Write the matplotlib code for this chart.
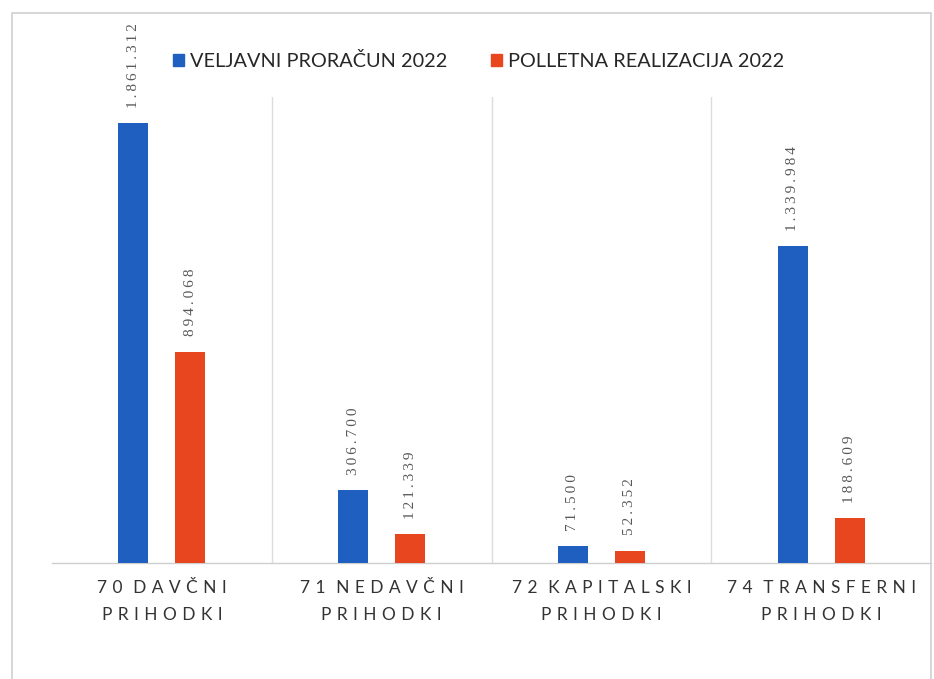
import matplotlib
matplotlib.use("Agg")
import matplotlib.pyplot as plt
from matplotlib.patches import Patch, Rectangle
import numpy as np

categories = ["70 DAVČNI\nPRIHODKI", "71 NEDAVČNI\nPRIHODKI", "72 KAPITALSKI\nPRIHODKI", "74 TRANSFERNI\nPRIHODKI"]
veljavni = [1861312, 306700, 71500, 1339984]
realizacija = [894068, 121339, 52352, 188609]
series_names = ["VELJAVNI PRORAČUN 2022", "POLLETNA REALIZACIJA 2022"]

BLUE = "#1F5FC0"
RED = "#E8461E"

def spaced(s, sep="\u2009", wsep="\u2009"):
    return "\n".join(wsep.join(sep.join(list(w)) for w in line.split(" ")) for line in s.split("\n"))

def fmt(v):
    return f"{v:,}".replace(",", ".")

fig = plt.figure(figsize=(9.34, 6.79), dpi=100)
W, H = 934, 679
ax = fig.add_axes([52 / W, 1 - 563 / H, (931 - 52) / W, (563 - 97) / H])

x = np.arange(len(categories))
bw = 0.136
off = 0.13
ax.bar(x - off, veljavni, width=bw, color=BLUE, zorder=3)
ax.bar(x + off, realizacija, width=bw, color=RED, zorder=3)

ax.set_xlim(-0.5, len(categories) - 0.5)
ax.set_ylim(0, 1971000)

for xs, vals in ((x - off, veljavni), (x + off, realizacija)):
    for xi, v in zip(xs, vals):
        ax.annotate(spaced(fmt(v)), (xi, v), xytext=(0, 11), textcoords="offset points",
                    rotation=90, ha="center", va="bottom", fontsize=11, color="#595959",
                    family=["Liberation Serif", "DejaVu Sans"], annotation_clip=False)

for b in [0.5, 1.5, 2.5]:
    ax.axvline(b, color="#dcdcdc", lw=1, zorder=1)

for s in ["top", "right", "left"]:
    ax.spines[s].set_visible(False)
ax.spines["bottom"].set_color("#cfcfcf")
ax.spines["bottom"].set_linewidth(1)
ax.set_yticks([])
ax.set_xticks(x)
ax.set_xticklabels([spaced(c, "\u2009\u2009\u200a", "\u2009\u2009\u2009\u2009\u2009") for c in categories],
                   fontsize=12.5, color="#333333",
                   family=["Lato", "DejaVu Sans"], linespacing=1.85)
ax.tick_params(axis="x", length=0, pad=12)

handles = [Patch(color=BLUE), Patch(color=RED)]
leg = fig.legend(handles, series_names, loc="center left", bbox_to_anchor=(155 / W, 1 - 61 / H),
                 ncol=2, frameon=False, handlelength=0.55, handleheight=0.55, handletextpad=0.3,
                 columnspacing=2.2, prop={"family": ["Lato", "DejaVu Sans"], "size": 14.3})
for t in leg.get_texts():
    t.set_color("#262626")

fig.patches.append(Rectangle((12 / W, -0.01), (931 - 12) / W, 1 - 13 / H + 0.01,
                             transform=fig.transFigure, fill=False, ec="#d0d0d0", lw=1.2))

fig.savefig("out.png", dpi=100)
